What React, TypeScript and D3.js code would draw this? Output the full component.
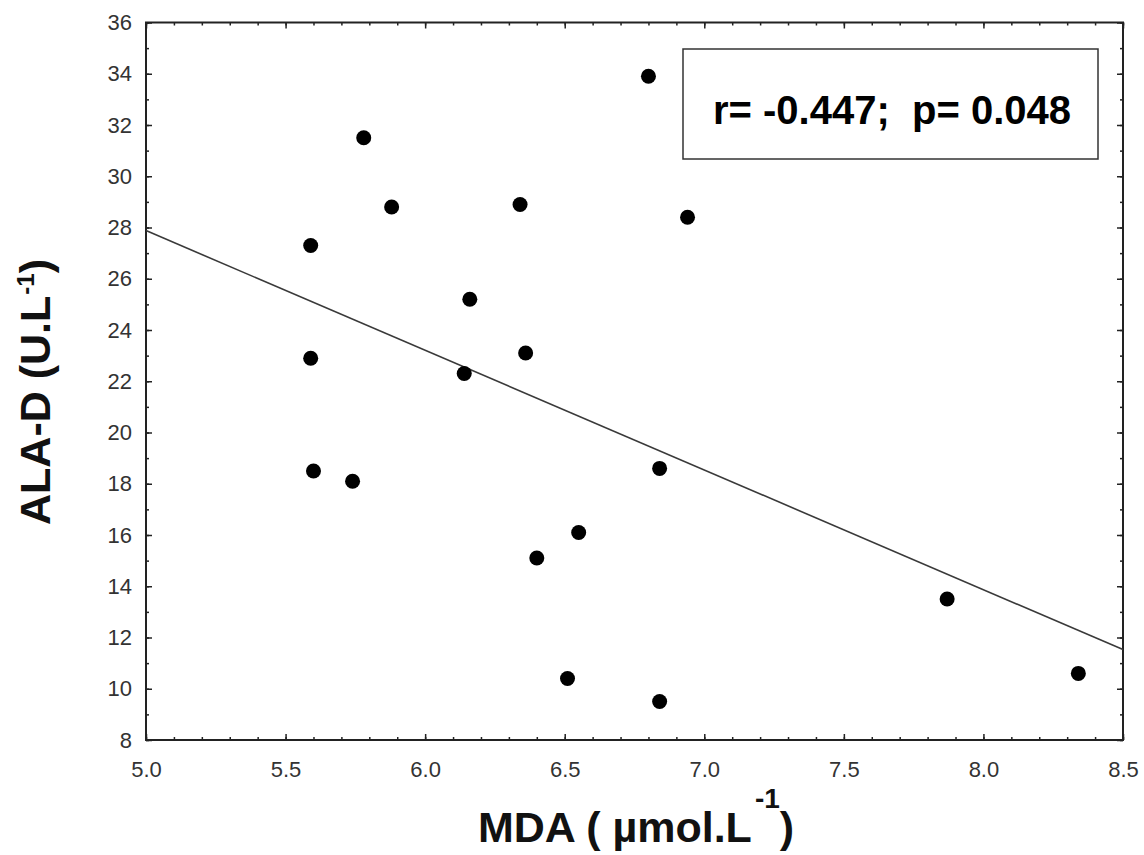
import React, { useEffect, useRef } from "react";
import * as d3 from "d3";

// MDA (µmol/L) vs ALA-D (U/L), one point per subject
const mda = [6.8, 5.78, 5.59, 5.88, 6.34, 6.94, 6.16, 5.59, 6.36, 6.14, 5.6, 5.74, 6.84, 6.55, 6.4, 6.51, 6.84, 7.87, 8.34];
const alad = [33.9, 31.5, 27.3, 28.8, 28.9, 28.4, 25.2, 22.9, 23.1, 22.3, 18.5, 18.1, 18.6, 16.1, 15.1, 10.4, 9.5, 13.5, 10.6];

// regression line ends
const fitX = [5.0, 8.5];
const fitY = [27.88, 11.53];

const xTicks = [5.0, 5.5, 6.0, 6.5, 7.0, 7.5, 8.0, 8.5];
const yTicks = [8, 10, 12, 14, 16, 18, 20, 22, 24, 26, 28, 30, 32, 34, 36];
const statText = "r= -0.447;  p= 0.048";

const FONT = "'Liberation Sans', Arial, Helvetica, sans-serif";

const App = () => {
  const svgRef = useRef<SVGSVGElement>(null);

  useEffect(() => {
    const width = 1144;
    const height = 855;
    const left = 146, right = 1123, top = 22.5, bottom = 740;

    const svg = d3.select(svgRef.current).attr("width", width).attr("height", height);
    svg.selectAll("*").remove();

    const x = d3.scaleLinear().domain([5, 8.5]).range([left, right]);
    const y = d3.scaleLinear().domain([8, 36]).range([bottom, top]);

    const minorX = d3.range(50, 86).map(v => v / 10);
    const minorY = d3.range(8, 37);

    const styleAxis = (g: any) => {
      g.select(".domain").remove();
      g.selectAll("line").attr("stroke", "#222").attr("stroke-width", 1.5);
      g.selectAll("text")
        .attr("font-family", FONT)
        .attr("font-size", 22)
        .attr("fill", "#333");
    };

    // minor ticks, all four sides, pointing inward
    svg.append("g").attr("transform", `translate(0,${bottom})`)
      .call(d3.axisBottom(x).tickValues(minorX).tickSize(-3).tickFormat(() => ""))
      .call(styleAxis);
    svg.append("g").attr("transform", `translate(0,${top})`)
      .call(d3.axisTop(x).tickValues(minorX).tickSize(-3).tickFormat(() => ""))
      .call(styleAxis);
    svg.append("g").attr("transform", `translate(${left},0)`)
      .call(d3.axisLeft(y).tickValues(minorY).tickSize(-3).tickFormat(() => ""))
      .call(styleAxis);
    svg.append("g").attr("transform", `translate(${right},0)`)
      .call(d3.axisRight(y).tickValues(minorY).tickSize(-3).tickFormat(() => ""))
      .call(styleAxis);

    // major ticks with labels
    svg.append("g").attr("transform", `translate(0,${bottom})`)
      .call(d3.axisBottom(x).tickValues(xTicks).tickSize(-6).tickPadding(21).tickFormat(d3.format(".1f")))
      .call(styleAxis);
    svg.append("g").attr("transform", `translate(${left},0)`)
      .call(d3.axisLeft(y).tickValues(yTicks).tickSize(-6).tickPadding(14).tickFormat(d3.format("d")))
      .call(styleAxis);
    svg.append("g").attr("transform", `translate(0,${top})`)
      .call(d3.axisTop(x).tickValues(xTicks).tickSize(-6).tickFormat(() => ""))
      .call(styleAxis);
    svg.append("g").attr("transform", `translate(${right},0)`)
      .call(d3.axisRight(y).tickValues(yTicks).tickSize(-6).tickFormat(() => ""))
      .call(styleAxis);

    // frame
    svg.append("rect")
      .attr("x", left).attr("y", top)
      .attr("width", right - left).attr("height", bottom - top)
      .attr("fill", "none").attr("stroke", "#222").attr("stroke-width", 2);

    // regression line
    const line = d3.line<number>().x((d, i) => x(fitX[i])).y(d => y(d));
    svg.append("path")
      .datum(fitY)
      .attr("d", line)
      .attr("fill", "none")
      .attr("stroke", "#3a3a3a")
      .attr("stroke-width", 1.6);

    // points
    svg.append("g").selectAll("circle")
      .data(mda)
      .join("circle")
      .attr("cx", d => x(d))
      .attr("cy", (d, i) => y(alad[i]))
      .attr("r", 7.5)
      .attr("fill", "#000");

    // stats box
    svg.append("rect")
      .attr("x", 683).attr("y", 49)
      .attr("width", 415).attr("height", 110)
      .attr("fill", "#fff").attr("stroke", "#333").attr("stroke-width", 1.5);
    svg.append("text")
      .attr("x", 713).attr("y", 124)
      .attr("font-family", FONT).attr("font-size", 40).attr("font-weight", "bold")
      .attr("xml:space", "preserve")
      .style("white-space", "pre")
      .text(statText);

    // x axis title
    const xt = svg.append("text")
      .attr("x", 636).attr("y", 842)
      .attr("text-anchor", "middle")
      .attr("font-family", FONT).attr("font-size", 43).attr("font-weight", "bold")
      .attr("fill", "#111");
    xt.append("tspan").text("MDA ( µmol.L");
    xt.append("tspan").attr("font-size", 28).attr("dx", 3).attr("dy", -34).text("-1");
    xt.append("tspan").attr("dy", 34).text(")");

    // y axis title
    const yt = svg.append("text")
      .attr("transform", "translate(50,392) rotate(-90)")
      .attr("text-anchor", "middle")
      .attr("font-family", FONT).attr("font-size", 43).attr("font-weight", "bold")
      .attr("fill", "#111");
    yt.append("tspan").text("ALA-D (U.L");
    yt.append("tspan").attr("font-size", 24).attr("dx", 1).attr("dy", -16).text("-1");
    yt.append("tspan").attr("dy", 16).text(")");
  }, []);

  return (
    <svg
      ref={svgRef}
      style={{ position: "absolute", left: 0, top: 0, display: "block", background: "#fff" }}
    />
  );
};

export default App;
